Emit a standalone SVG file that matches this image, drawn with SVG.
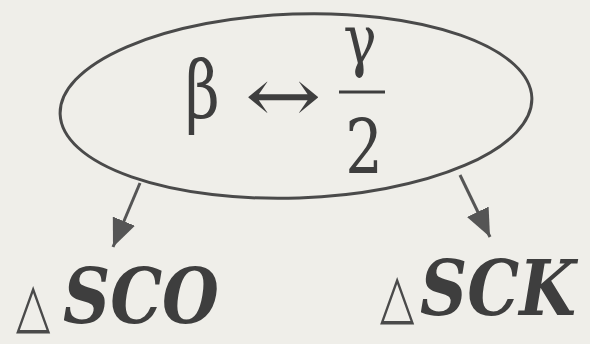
<svg xmlns="http://www.w3.org/2000/svg" width="590" height="344" viewBox="0 0 590 344">
<style>
.ink{fill:#3e3e3e;font-family:"DejaVu Serif",serif}
.lab{font-weight:bold;font-style:italic;font-size:76px}
.tri{fill:#4a4a4a;font-family:"DejaVu Sans",sans-serif;font-size:62px}
.conn{stroke:#555;stroke-width:3;fill:none}
</style>
<defs>
<marker id="ah" markerUnits="userSpaceOnUse" markerWidth="30" markerHeight="24" refX="28" refY="12" orient="auto">
<path d="M0,0 L28,12 L0,24 z" fill="#555"/>
</marker>
</defs>
<rect width="590" height="344" fill="#efeee9"/>
<g id="node-main">
<ellipse cx="296" cy="106" rx="236" ry="92" transform="rotate(-2 296 106)" fill="none" stroke="#4a4a4a" stroke-width="3"/>
<text class="ink" font-size="80" transform="translate(185 118) scale(0.75 1)">β</text>
<text class="ink" font-size="76" transform="translate(245 122) scale(1.2 1)">↔</text>
<text class="ink" font-size="70" text-anchor="middle" transform="translate(360 64) scale(0.8 1)">γ</text>
<line x1="339" y1="92" x2="385" y2="92" stroke="#3e3e3e" stroke-width="3"/>
<text class="ink" font-size="74" text-anchor="middle" transform="translate(364 173) scale(0.8 1)">2</text>
</g>
<g id="node-sco">
<text class="tri" transform="translate(16 326) scale(0.72 1)">△</text>
<text class="ink lab" x="63" y="323" textLength="156" lengthAdjust="spacingAndGlyphs">SCO</text>
</g>
<g id="node-sck">
<text class="tri" transform="translate(380 317) scale(0.72 1)">△</text>
<text class="ink lab" transform="translate(420 315) scale(0.86 1)">SCK</text>
</g>
<g id="connectors">
<line class="conn" x1="140" y1="183" x2="113" y2="247" marker-end="url(#ah)"/>
<line class="conn" x1="460" y1="175" x2="490" y2="237" marker-end="url(#ah)"/>
</g>
</svg>
